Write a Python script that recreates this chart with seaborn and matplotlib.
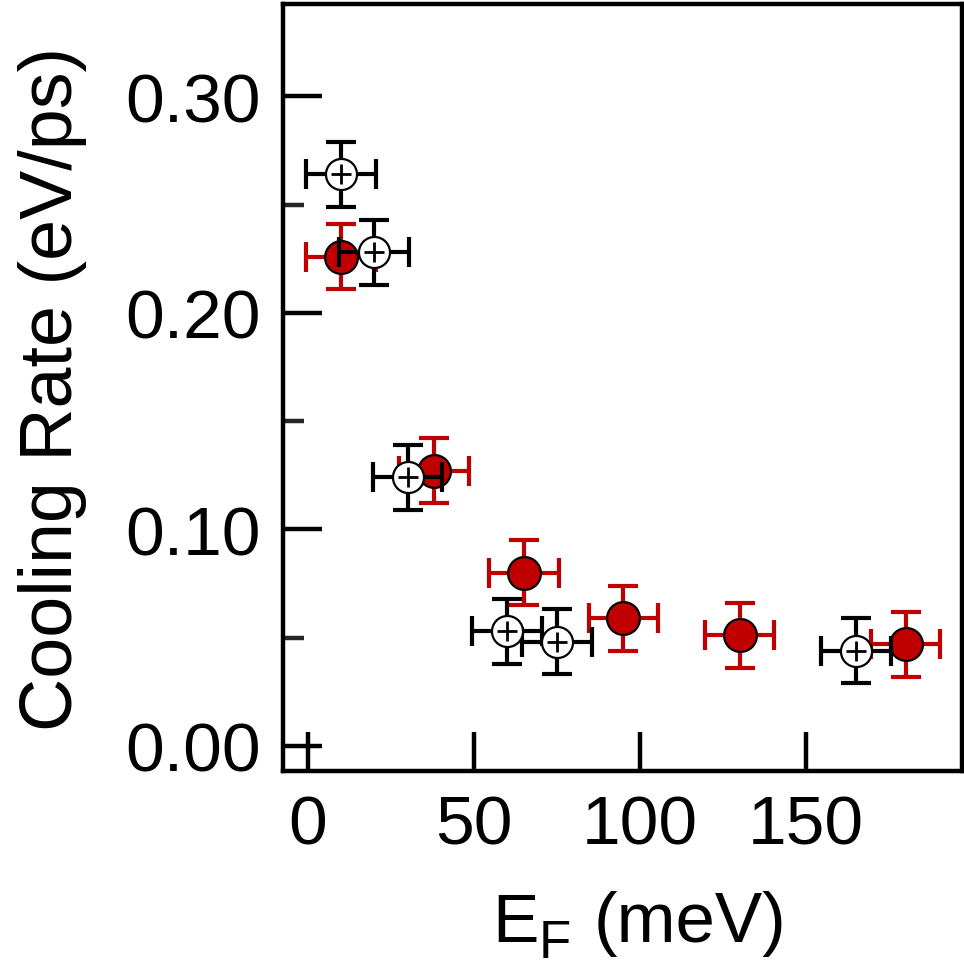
import numpy as np
import pandas as pd
import matplotlib
matplotlib.use("Agg")
import matplotlib.pyplot as plt
import seaborn as sns

# ===========================
# DATA
# ===========================
# Filled red circles
red_ef = [10, 38, 65, 95, 130, 180]
red_rate = [0.226, 0.127, 0.080, 0.059, 0.051, 0.047]

# Open black circles with a cross
open_ef = [10, 20, 30, 60, 75, 165]
open_rate = [0.264, 0.228, 0.124, 0.053, 0.048, 0.044]

# Error bars, same for every point
ef_err = 10.5
rate_err = 0.015

xticks = [0, 50, 100, 150]
yticks = [0.00, 0.10, 0.20, 0.30]
yticks_minor = [0.05, 0.15, 0.25]

df_red = pd.DataFrame({"EF": red_ef, "Rate": red_rate})
df_open = pd.DataFrame({"EF": open_ef, "Rate": open_rate})

# ===========================
# STYLE
# ===========================
sns.set_theme(style="ticks")
plt.rcParams["font.family"] = ["Liberation Sans", "DejaVu Sans"]
plt.rcParams["text.color"] = "black"
plt.rcParams["axes.labelcolor"] = "black"

red = "#C00000"

fig = plt.figure(figsize=(9.64, 9.70), dpi=100)
ax = fig.add_axes([0.2936, 0.2041, 0.7044, 0.7907])

# red series: error bars then markers
ax.errorbar(df_red["EF"], df_red["Rate"], xerr=ef_err, yerr=rate_err,
            fmt="none", ecolor=red, elinewidth=3, capsize=11, capthick=3, zorder=2)
sns.scatterplot(data=df_red, x="EF", y="Rate", ax=ax, s=560, color=red,
                edgecolor="black", linewidth=1.6, zorder=3, legend=False)

# open series on top
ax.errorbar(df_open["EF"], df_open["Rate"], xerr=ef_err, yerr=rate_err,
            fmt="none", ecolor="black", elinewidth=3, capsize=11, capthick=3, zorder=4)
sns.scatterplot(data=df_open, x="EF", y="Rate", ax=ax, s=500, color="white",
                edgecolor="black", linewidth=1.6, zorder=5, legend=False)
sns.scatterplot(data=df_open, x="EF", y="Rate", ax=ax, s=190, marker="+", color="black",
                linewidth=2, zorder=6, legend=False)

ax.set_xlim(-7.5, 197)
ax.set_ylim(-0.0116, 0.3426)
ax.set_xticks(xticks)
ax.set_yticks(yticks)
ax.set_yticks(yticks_minor, minor=True)
ax.set_yticklabels([f"{v:.2f}" for v in yticks])

for side in ["left", "right", "top", "bottom"]:
    ax.spines[side].set_visible(True)
    ax.spines[side].set_linewidth(3.2)
    ax.spines[side].set_color("black")

ax.tick_params(axis="both", which="major", direction="in", length=28, width=3.2,
               labelsize=50, colors="black", pad=16)
ax.tick_params(axis="y", which="minor", direction="in", length=15, width=3.2)
ax.tick_params(top=False, right=False, which="both")

# x label: E with a large subscript F, built from plain text pieces
ax.set_xlabel("")
fig.text(492 / 964, (970 - 942) / 970, "E", fontsize=50, ha="left", va="baseline")
fig.text(539 / 964, (970 - 958) / 970, "F", fontsize=38, ha="left", va="baseline")
fig.text(594 / 964, (970 - 942) / 970, "(meV)", fontsize=51, ha="left", va="baseline")

ax.set_ylabel("Cooling Rate (eV/ps)", fontsize=53)
ax.yaxis.set_label_coords(-0.288, 0.5)

fig.savefig("out.png", dpi=100)
